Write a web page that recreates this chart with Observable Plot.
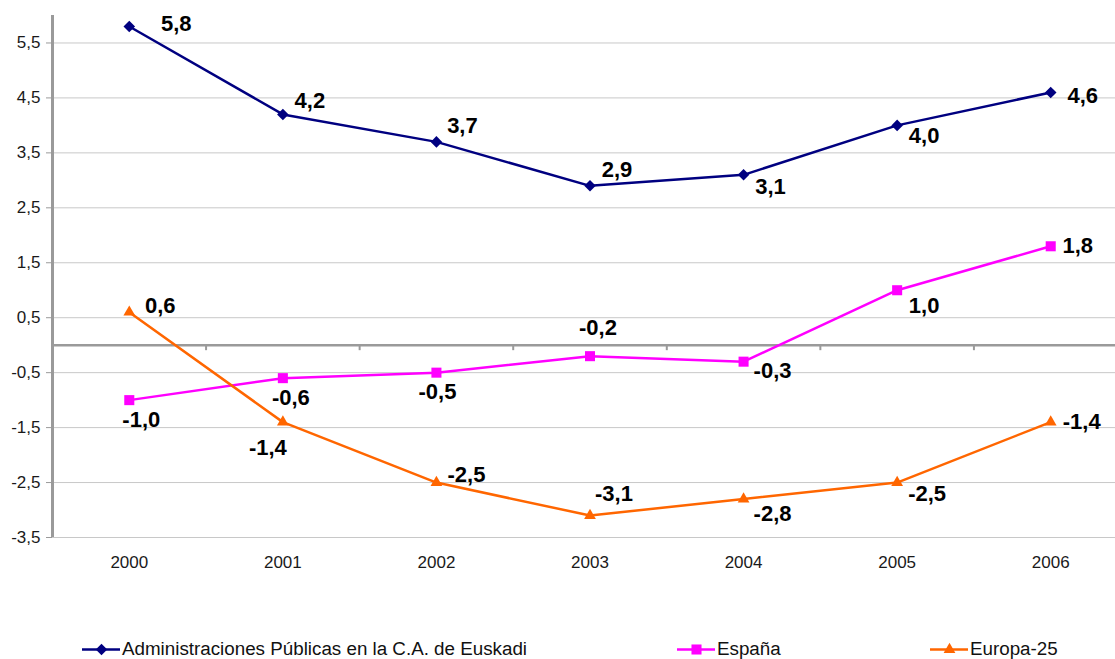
<!DOCTYPE html>
<html>
<head>
<meta charset="utf-8">
<script src="https://cdn.jsdelivr.net/npm/d3@7"></script>
<script src="https://cdn.jsdelivr.net/npm/@observablehq/plot@0.6"></script>
<style>
  html, body { margin: 0; padding: 0; background: #fff; }
  body { width: 1115px; height: 659px; overflow: hidden; font-family: Arial, "Liberation Sans", sans-serif; }
  #legend { position: absolute; top: 638px; left: 0; width: 1115px; height: 22px; font-size: 18.8px; color: #111; }
  .item { position: absolute; top: 0; display: flex; align-items: center; height: 22px; }
  .item svg { margin-right: 2px; }
</style>
</head>
<body>
<div id="chart"></div>
<div id="legend"></div>
<script>
// ---- data ----
const years = [2000, 2001, 2002, 2003, 2004, 2005, 2006];
const euskadi = [5.8, 4.2, 3.7, 2.9, 3.1, 4.0, 4.6];
const espana = [-1.0, -0.6, -0.5, -0.2, -0.3, 1.0, 1.8];
const europa = [0.6, -1.4, -2.5, -3.1, -2.8, -2.5, -1.4];
const seriesNames = ["Administraciones Públicas en la C.A. de Euskadi", "España", "Europa-25"];
const yTicks = [-3.5, -2.5, -1.5, -0.5, 0.5, 1.5, 2.5, 3.5, 4.5, 5.5];

// ---- styles ----
const colors = ["#000080", "#FF00FF", "#FF6600"];
const symbols = ["diamond2", "square2", "triangle2"];
const symR = [5.2, 6.4, 5.6];
// label offsets (px) per series, per year
const labelDx = [
  [47, 27, 26, 27, 27, 27, 32],
  [12, 8, 1, 8, 29, 27, 27],
  [31, -15, 30, 24, 29, 30, 31]
];
const labelDy = [
  [-3, -13, -16, -16, 12, 11, 4],
  [20, 20, 19, -28, 9, 16, 0],
  [-6, 26, -8, -22, 15, 11, 0]
];

const allValues = [euskadi, espana, europa];
const data = [];
allValues.forEach((vals, s) => {
  vals.forEach((v, i) => data.push({series: seriesNames[s], s, year: years[i], value: v, dx: labelDx[s][i], dy: labelDy[s][i]}));
});
const fmt = v => v.toFixed(1).replace(".", ",");
const boundaries = years.slice(0, -1).map(y => y + 0.5);

const W = 1115, H = 592;
const marks = [
  Plot.ruleY(yTicks, {stroke: "#c8c8c8", strokeWidth: 1}),
  Plot.ruleY([0], {stroke: "#9a9a9a", strokeWidth: 2.5}),
  Plot.ruleX(boundaries, {y1: 0, y2: -0.1, stroke: "#9a9a9a", strokeWidth: 2}),
  Plot.ruleX([1999.5], {y1: -3.5, y2: 6.0, stroke: "#9a9a9a", strokeWidth: 3}),
  Plot.axisY({ticks: yTicks, tickFormat: fmt, tickSize: 6, tickPadding: 6, stroke: "#9a9a9a", fill: "#1a1a1a", label: null}),
  Plot.axisX({ticks: years, tickFormat: d => String(d), tickSize: 0, tickPadding: 18, fill: "#1a1a1a", label: null})
];
seriesNames.forEach((name, s) => {
  const d = data.filter(r => r.s === s);
  marks.push(Plot.line(d, {x: "year", y: "value", stroke: colors[s], strokeWidth: 2.5}));
  marks.push(Plot.dot(d, {x: "year", y: "value", symbol: symbols[s], fill: colors[s], stroke: "none", r: symR[s]}));
});
data.forEach(r => {
  marks.push(Plot.text([r], {x: "year", y: "value", text: d => fmt(d.value), dx: r.dx, dy: r.dy, fontSize: 22, fontWeight: "bold", fill: "#000", textAnchor: "middle"}));
});

const chart = Plot.plot({
  width: W,
  height: H,
  marginLeft: 52,
  marginRight: 0,
  marginTop: 15,
  marginBottom: H - 537,
  style: {fontFamily: "Arial, 'Liberation Sans', sans-serif", fontSize: "17px", background: "#fff", overflow: "visible"},
  x: {type: "linear", domain: [1999.5, 2006.5], range: [52, 1127]},
  y: {domain: [-3.5, 6.0]},
  marks
});
document.getElementById("chart").appendChild(chart);

// ---- legend ----
const legend = document.getElementById("legend");
const legendX = [82, 677, 930];
seriesNames.forEach((name, s) => {
  const item = document.createElement("div");
  item.className = "item";
  item.style.left = legendX[s] + "px";
  const sw = Plot.plot({
    width: 38, height: 22, margin: 0,
    x: {domain: [0, 1], range: [0, 38], axis: null},
    y: {domain: [0, 1], range: [22, 0], axis: null},
    style: {background: "transparent"},
    marks: [
      Plot.ruleY([0.5], {x1: 0, x2: 1, stroke: colors[s], strokeWidth: 2.5}),
      Plot.dot([{x: 0.5, y: 0.5}], {x: "x", y: "y", symbol: symbols[s], fill: colors[s], stroke: "none", r: symR[s]})
    ]
  });
  item.appendChild(sw);
  const t = document.createElement("span");
  t.textContent = name;
  item.appendChild(t);
  legend.appendChild(item);
});
</script>
</body>
</html>
